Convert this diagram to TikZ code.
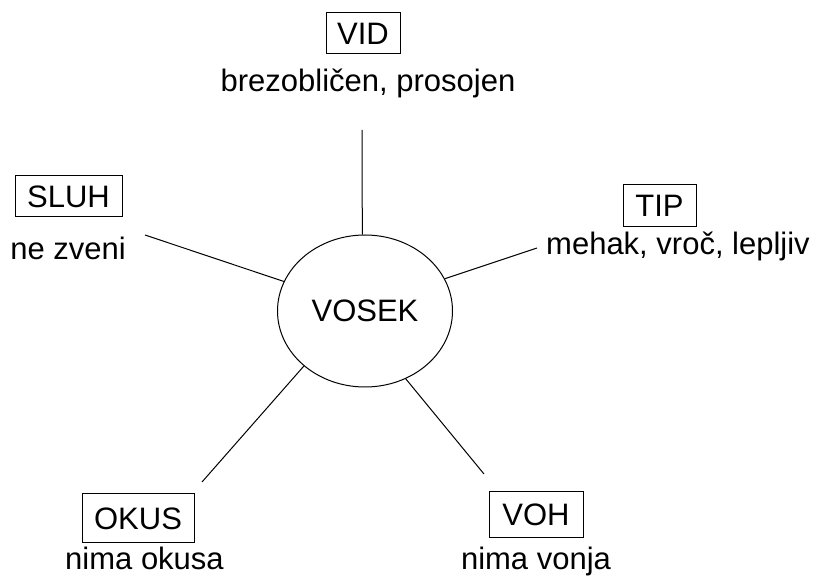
\documentclass[tikz,border=0pt]{standalone}
\usepackage{fontspec}
\setmainfont{Liberation Sans}
\usetikzlibrary{shapes.geometric}
\begin{document}
\begin{tikzpicture}[x=0.75pt,y=-0.75pt,
  every node/.style={font=\fontsize{23.25}{28}\selectfont},
  sensebox/.style={draw,line width=0.75pt,inner sep=0pt,align=center},
  desc/.style={anchor=base,inner sep=0pt},
  link/.style={line width=0.75pt}]
\useasboundingbox (0,0) rectangle (815,577);
\node[draw,ellipse,line width=0.75pt,minimum width=131.25pt,minimum height=114pt,inner sep=0pt] (vosek) at (365,311) {VOSEK};
% boxes
\node[sensebox,minimum width=55.5pt,minimum height=30.75pt] (vid) at (363,33.5) {VID};
\node[sensebox,minimum width=80.25pt,minimum height=30.75pt] (sluh) at (68.5,196.5) {SLUH};
\node[sensebox,minimum width=54.75pt,minimum height=31.5pt] (tip) at (659.5,206) {TIP};
\node[sensebox,minimum width=84pt,minimum height=36.75pt] (okus) at (138,518.5) {OKUS};
\node[sensebox,minimum width=70.5pt,minimum height=34.5pt] (voh) at (536,515) {VOH};
% descriptions
\node[desc] (vidd) at (368,92) {brezobličen, prosojen};
\node[desc] (sluhd) at (68,260) {ne zveni};
\node[desc] (tipd) at (678,255) {mehak, vroč, lepljiv};
\node[desc] (okusd) at (144.5,570) {nima okusa};
\node[desc] (vohd) at (536,570) {nima vonja};
% connector ends
\coordinate (cvid) at (362,130);
\coordinate (csluh) at (145,235);
\coordinate (ctip) at (537,248);
\coordinate (cokus) at (202,482);
\coordinate (cvoh) at (484,474);
\draw[link] (cvid) -- (vosek.92);
\draw[link] (csluh) -- (vosek.160.5);
\draw[link] (ctip) -- (vosek.22.5);
\draw[link] (cokus) -- (vosek.222.5);
\draw[link] (cvoh) -- (vosek.-59.5);
\end{tikzpicture}
\end{document}
